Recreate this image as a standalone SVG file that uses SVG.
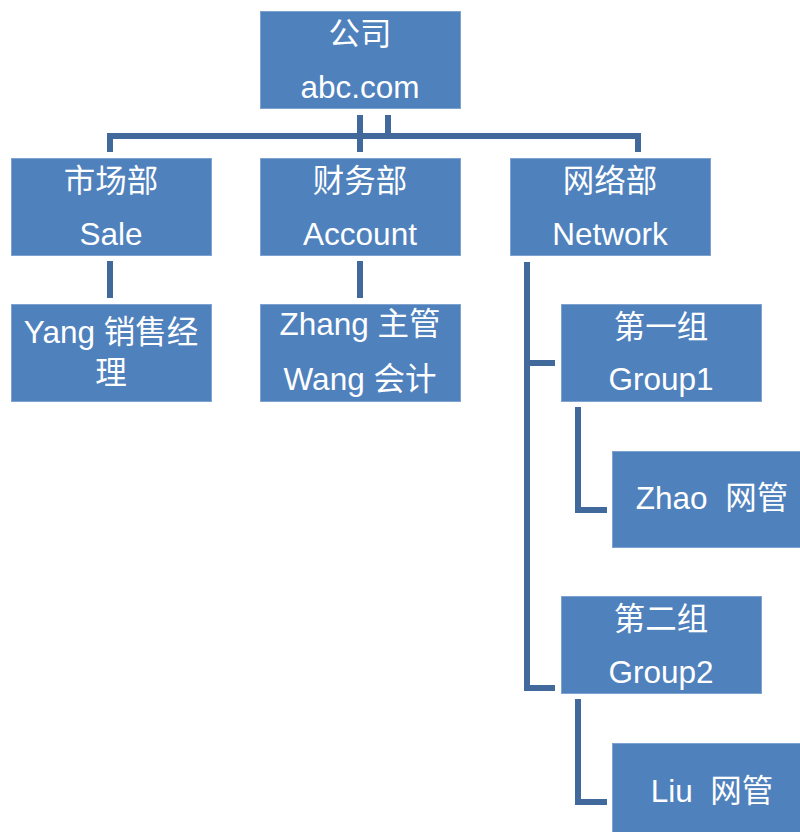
<svg xmlns="http://www.w3.org/2000/svg" width="800" height="832" viewBox="0 0 800 832">
<style>
.box{fill:#4F81BD;stroke:#7FA3D0;stroke-width:1}
.t{fill:#FFFFFF;font-family:"Liberation Sans","Noto Sans CJK SC",sans-serif;font-size:31.5px;text-anchor:middle;white-space:pre}
.c{fill:none;stroke:#41699C;stroke-width:6;stroke-linejoin:miter}
</style>
<rect width="800" height="832" fill="#FFFFFF"/>
<g id="connectors">
<path class="c" d="M110,152 V136 H638 V152"/>
<path class="c" d="M360,115 V152"/>
<path class="c" d="M388,115 V136"/>
<path class="c" d="M110,261 V298"/>
<path class="c" d="M360,261 V298"/>
<path class="c" d="M527,262 V688 H555"/>
<path class="c" d="M527,363 H555"/>
<path class="c" d="M578,407 V510 H607"/>
<path class="c" d="M578,699 V802 H607"/>
</g>
<g id="n-company"><rect class="box" x="260.5" y="11.5" width="200" height="97"/><text class="t" x="360" y="45">公司</text><text class="t" x="360" y="98">abc.com</text></g>
<g id="n-sale"><rect class="box" x="11.5" y="158.5" width="200" height="97"/><text class="t" x="111" y="192">市场部</text><text class="t" x="111" y="245">Sale</text></g>
<g id="n-account"><rect class="box" x="260.5" y="158.5" width="200" height="97"/><text class="t" x="360" y="192">财务部</text><text class="t" x="360" y="245">Account</text></g>
<g id="n-network"><rect class="box" x="510.5" y="158.5" width="200" height="97"/><text class="t" x="610" y="192">网络部</text><text class="t" x="610" y="245">Network</text></g>
<g id="n-yang"><rect class="box" x="11.5" y="304.5" width="200" height="97"/><text class="t" x="111" y="343">Yang 销售经</text><text class="t" x="111" y="384">理</text></g>
<g id="n-zhang"><rect class="box" x="260.5" y="304.5" width="200" height="97"/><text class="t" x="360" y="335">Zhang 主管</text><text class="t" x="360" y="390">Wang 会计</text></g>
<g id="n-group1"><rect class="box" x="561.5" y="304.5" width="200" height="97"/><text class="t" x="661" y="338">第一组</text><text class="t" x="661" y="390">Group1</text></g>
<g id="n-zhao"><rect class="box" x="612.5" y="451.5" width="200" height="96"/><text class="t" x="712" y="509">Zhao  网管</text></g>
<g id="n-group2"><rect class="box" x="561.5" y="596.5" width="200" height="97"/><text class="t" x="661" y="630">第二组</text><text class="t" x="661" y="683">Group2</text></g>
<g id="n-liu"><rect class="box" x="612.5" y="743.5" width="200" height="97"/><text class="t" x="712" y="802">Liu  网管</text></g>
</svg>
